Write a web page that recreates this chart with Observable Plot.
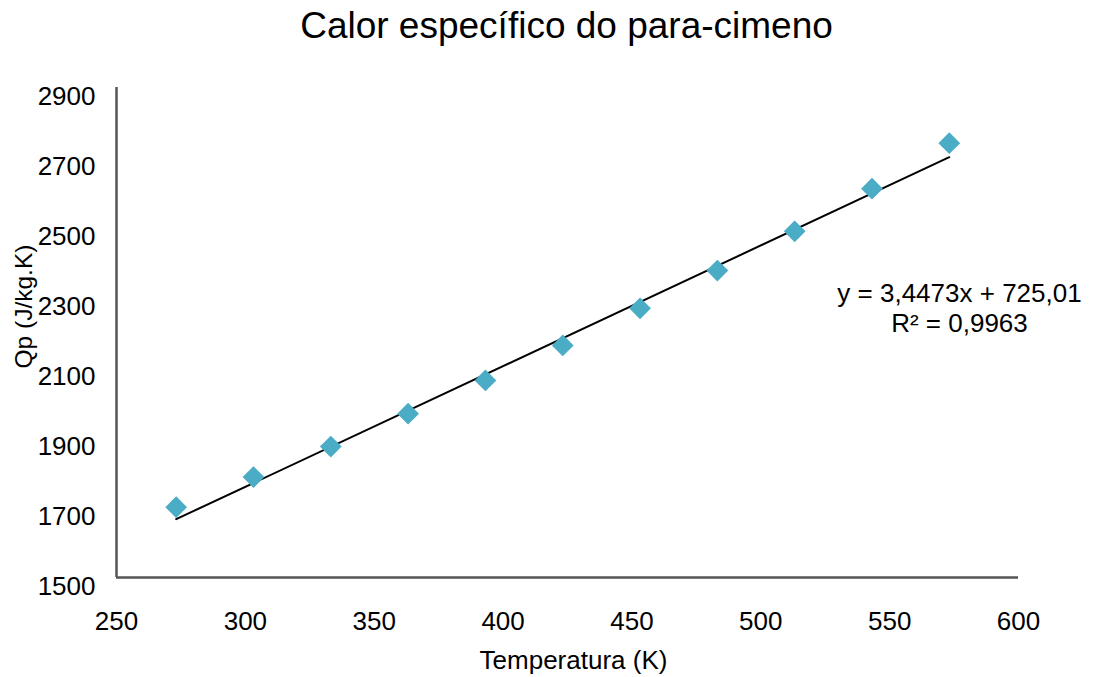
<!DOCTYPE html>
<html>
<head>
<meta charset="utf-8">
<script src="https://cdn.jsdelivr.net/npm/d3@7"></script>
<script src="https://cdn.jsdelivr.net/npm/@observablehq/plot@0.6"></script>
<style>
  html, body { margin: 0; padding: 0; background: #fff; }
  #title {
    box-sizing: border-box; width: 1093px; height: 62px; line-height: 52px;
    padding-left: 40px;
    text-align: center; font-family: "Liberation Sans", Arial, sans-serif;
    font-size: 37px; color: #000;
  }
  #chart svg { display: block; }
</style>
</head>
<body>
<div id="title">Calor específico do para-cimeno</div>
<div id="chart"></div>
<script>
// Temperatura (K) e calor específico medido Qp (J/kg.K)
const temperaturas = [273.15, 303.15, 333.15, 363.15, 393.15, 423.15, 453.15, 483.15, 513.15, 543.15, 573.15];
const calorEspecifico = [1701, 1787, 1874, 1968, 2063, 2163, 2269, 2377, 2489, 2611, 2741];

// Ajuste linear (linha de tendência)
const inclinacao = 3.4473;
const intercepto = 725.01;
const r2 = "0,9963";
const equacao = `y = ${String(inclinacao).replace(".", ",")}x + ${String(intercepto).replace(".", ",")}`;

const xTicks = [250, 300, 350, 400, 450, 500, 550, 600];
const yTicks = [1500, 1700, 1900, 2100, 2300, 2500, 2700, 2900];

const pontos = temperaturas.map((t, i) => ({t, cp: calorEspecifico[i]}));
const xMin = d3.min(temperaturas), xMax = d3.max(temperaturas);
const tendencia = [xMin, xMax].map(t => ({t, cp: inclinacao * t + intercepto}));

const font = "'Liberation Sans', Arial, sans-serif";

const chart = Plot.plot({
  width: 1093,
  height: 615,
  marginTop: 25,
  marginBottom: 100,
  marginLeft: 116,
  marginRight: 75,
  style: {fontFamily: font, fontSize: "26px", color: "#000", background: "#fff"},
  x: {domain: [250, 600]},
  y: {domain: [1500, 2900]},
  marks: [
    Plot.axisX({ticks: xTicks, tickFormat: d => String(d), tickSize: 0, tickPadding: 34, label: null, fontSize: 26, fill: "#000"}),
    Plot.axisY({ticks: yTicks, tickFormat: d => String(d), tickSize: 0, tickPadding: 21, dy: 9, label: null, fontSize: 26, fill: "#000"}),
    Plot.ruleX([250], {stroke: "#555", strokeWidth: 2.5}),
    Plot.ruleY([1500], {stroke: "#555", strokeWidth: 2.5}),
    Plot.line(tendencia, {x: "t", y: "cp", stroke: "#000", strokeWidth: 2}),
    Plot.dot(pontos, {x: "t", y: "cp", symbol: "diamond2", r: 9.8, fill: "#4bacc6", stroke: "none"}),
    Plot.text([`${equacao}\nR² = ${r2}`], {
      frameAnchor: "right", dx: -59, dy: -25, textAnchor: "middle",
      lineAnchor: "middle", lineHeight: 1.15, fontSize: 26, fill: "#000"
    }),
    Plot.text(["Temperatura (K)"], {
      frameAnchor: "bottom", dx: 6, dy: 83, lineAnchor: "middle", fontSize: 26, fill: "#000"
    }),
    Plot.text(["Qp (J/kg.K)"], {
      frameAnchor: "left", dx: -92, dy: 36, rotate: -90, lineAnchor: "middle", fontSize: 24.5, fill: "#000"
    })
  ]
});
document.getElementById("chart").appendChild(chart);
</script>
</body>
</html>
